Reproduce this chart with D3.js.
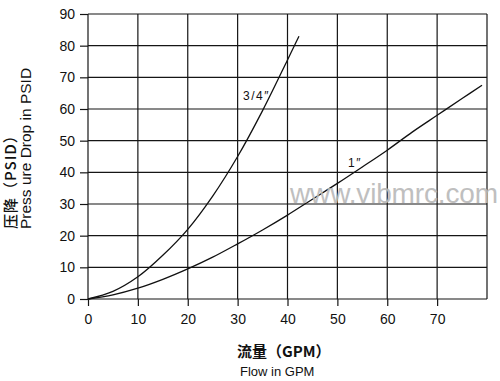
<html>
<head>
  <meta charset="utf-8">
  <script src="https://d3js.org/d3.v7.min.js"></script>
  <style>
    body { margin: 0; background: #fff; }
    text { font-family: "Liberation Sans", Arial, sans-serif; fill: #111; }
    .cjk { font-family: "Noto Sans CJK SC", "Liberation Sans", sans-serif; }
  </style>
</head>
<body>
  <svg width="500" height="381"></svg>
  <script>
  // tick values
  var xTicks = [0, 10, 20, 30, 40, 50, 60, 70];
  var yTicks = [0, 10, 20, 30, 40, 50, 60, 70, 80, 90];

  // 3/4" curve (flow GPM, pressure drop PSID)
  var flow34 = [0, 5, 10, 15, 20, 25, 30, 35, 40, 42.3];
  var drop34 = [0, 2.4, 7, 13.8, 22, 32.5, 45, 59.5, 75.5, 83];

  // 1" curve
  var flow1 = [0, 5, 10, 15, 20, 25, 30, 35, 40, 45, 50, 55, 60, 65, 70, 75, 79];
  var drop1 = [0, 1.3, 3.4, 6.2, 9.5, 13.2, 17.4, 21.8, 26.5, 31.5, 36.5, 41.7, 47, 52.7, 58, 63.3, 67.5];

  var svg = d3.select("svg"),
    width = +svg.attr("width"),
    height = +svg.attr("height");

  var X = d3.scaleLinear().domain([0, 80]).range([88, 487]);
  var Y = d3.scaleLinear().domain([0, 90]).range([299, 14]);

  // grid
  var grid = svg.append("g").attr("stroke", "#151515").attr("stroke-width", 1.2);
  grid.selectAll("line.v")
    .data(xTicks.concat([80]))
    .enter().append("line")
    .attr("x1", d => X(d)).attr("x2", d => X(d))
    .attr("y1", Y(0)).attr("y2", Y(90));
  grid.selectAll("line.h")
    .data(yTicks)
    .enter().append("line")
    .attr("x1", X(0)).attr("x2", X(80))
    .attr("y1", d => Y(d)).attr("y2", d => Y(d));

  // axes (outer ticks + labels)
  var xAxis = svg.append("g")
    .attr("transform", "translate(0," + Y(0) + ")")
    .call(d3.axisBottom(X).tickValues(xTicks).tickSize(7).tickPadding(8));
  var yAxis = svg.append("g")
    .attr("transform", "translate(" + X(0) + ",0)")
    .call(d3.axisLeft(Y).tickValues(yTicks).tickSize(8).tickPadding(5));
  [xAxis, yAxis].forEach(function(a) {
    a.select(".domain").remove();
    a.selectAll("line").attr("stroke", "#151515").attr("stroke-width", 1.2);
    a.selectAll("text")
      .style("font-family", "'Liberation Sans', Arial, sans-serif")
      .style("font-size", "14px").attr("fill", "#111");
  });

  // curves
  var line = d3.line()
    .x(d => X(d[0]))
    .y(d => Y(d[1]))
    .curve(d3.curveCatmullRom.alpha(0.5));

  svg.append("path")
    .datum(d3.zip(flow34, drop34))
    .attr("d", line)
    .attr("fill", "none").attr("stroke", "#111").attr("stroke-width", 1.3);
  svg.append("path")
    .datum(d3.zip(flow1, drop1))
    .attr("d", line)
    .attr("fill", "none").attr("stroke", "#111").attr("stroke-width", 1.3);

  // curve labels
  svg.append("text").attr("x", 243).attr("y", 100)
    .style("font-size", "12px").style("letter-spacing", "1.5px").text("3/4″");
  svg.append("text").attr("x", 348).attr("y", 167)
    .style("font-size", "12px").style("letter-spacing", "1.5px").text("1″");

  // axis titles
  svg.append("text").attr("class", "cjk")
    .attr("x", 237).attr("y", 357)
    .style("font-size", "15px").style("font-weight", "bold")
    .text("流量（GPM）");
  svg.append("text")
    .attr("x", 240).attr("y", 376)
    .style("font-size", "13px")
    .text("Flow in GPM");

  svg.append("text").attr("class", "cjk")
    .attr("transform", "translate(16,229) rotate(-90)")
    .style("font-size", "15px").style("font-weight", "500")
    .style("letter-spacing", "1px")
    .text("压降（PSID）");
  svg.append("text")
    .attr("transform", "translate(31,229) rotate(-90)")
    .style("font-size", "15.5px")
    .text("Press ure Drop in PSID");

  // watermark
  svg.append("text")
    .attr("x", 290).attr("y", 203)
    .attr("textLength", 208).attr("lengthAdjust", "spacing")
    .style("font-size", "28px")
    .style("fill", "#b9b9b9").style("opacity", 0.9)
    .text("www.vibmrc.com");
  </script>
</body>
</html>
